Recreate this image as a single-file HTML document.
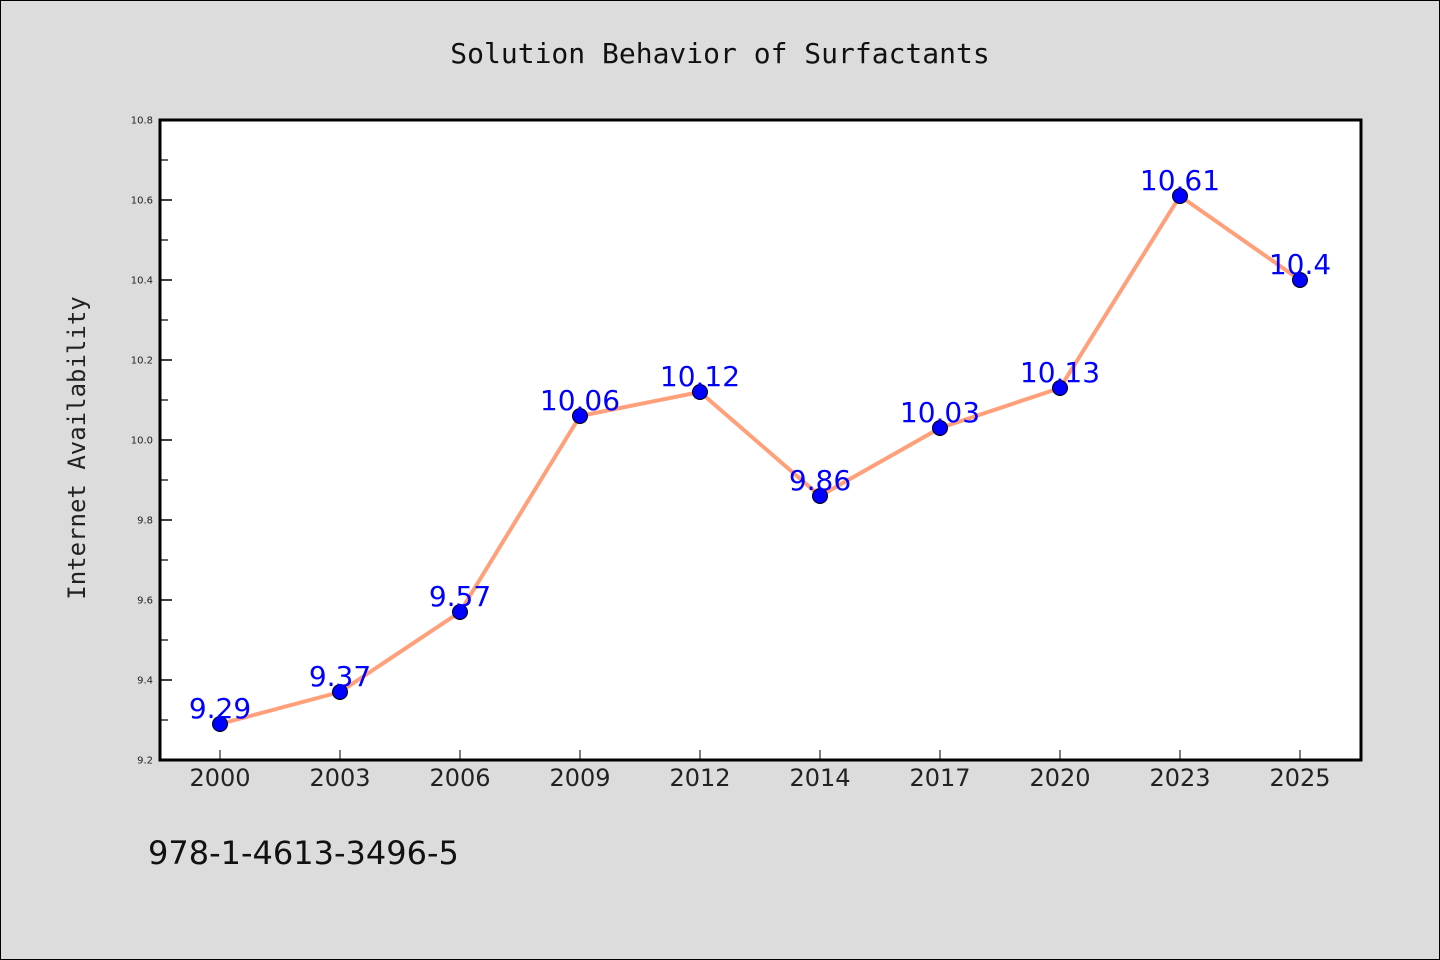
<!DOCTYPE html>
<html><head><meta charset="utf-8"><style>
html,body{margin:0;padding:0;background:#dcdcdc;}
svg{display:block;}
</style></head><body>
<svg width="1440" height="960" xmlns="http://www.w3.org/2000/svg">
<rect x="0.5" y="0.5" width="1439" height="959" fill="#dcdcdc" stroke="#000"/>
<text x="720" y="63" text-anchor="middle" font-family="'WenQuanYi Zen Hei','DejaVu Sans Mono',monospace" font-size="28" fill="#111">Solution Behavior of Surfactants</text>
<rect x="160" y="120" width="1201" height="640" fill="#fff"/>
<g id="axes"></g>
<g id="series"></g>
<rect x="160" y="120" width="1201" height="640" fill="none" stroke="#000" stroke-width="3"/>
<text transform="translate(85,448) rotate(-90)" text-anchor="middle" font-family="'WenQuanYi Zen Hei','DejaVu Sans Mono',monospace" font-size="24" fill="#222">Internet Availability</text>
<text x="148" y="864" font-family="'WenQuanYi Zen Hei','DejaVu Sans',sans-serif" font-size="32" fill="#111">978-1-4613-3496-5</text>
</svg>
<script>
const categories=["2000","2003","2006","2009","2012","2014","2017","2020","2023","2025"];
const values=[9.29,9.37,9.57,10.06,10.12,9.86,10.03,10.13,10.61,10.4];
const yTicks=[9.2,9.4,9.6,9.8,10.0,10.2,10.4,10.6,10.8];
const yMinor=[9.3,9.5,9.7,9.9,10.1,10.3,10.5,10.7];
const NS="http://www.w3.org/2000/svg";
const L=160,R=1361,T=120,B=760,yMin=9.2,yMax=10.8;
const xs=i=>L+60+i*(R-L-1)/categories.length;
const ys=v=>B-(v-yMin)/(yMax-yMin)*(B-T);
function mk(tag,attrs,parent){const e=document.createElementNS(NS,tag);for(const k in attrs)e.setAttribute(k,attrs[k]);parent.appendChild(e);return e;}
const ax=document.getElementById('axes'),se=document.getElementById('series');
yTicks.forEach(v=>{
 const l=mk('line',{x1:L,x2:L+12,y1:ys(v),y2:ys(v),stroke:'#000','stroke-width':1.5},ax);
 
 
 const t=mk('text',{x:L-7,y:ys(v)+3.5,'text-anchor':'end','font-family':'DejaVu Sans,sans-serif','font-size':10,fill:'#222'},ax);
 t.textContent=v.toFixed(1);
 
 
});
yMinor.forEach(v=>{
 const l=mk('line',{x1:L,x2:L+8,y1:ys(v),y2:ys(v),stroke:'#000','stroke-width':1.2},ax);
 
 
});
categories.forEach((c,i)=>{
 const l=mk('line',{x1:xs(i),x2:xs(i),y1:B,y2:B-10,stroke:'#000','stroke-width':1},ax);
 
 
 const t=mk('text',{x:xs(i),y:B+26,'text-anchor':'middle','font-family':'WenQuanYi Zen Hei,DejaVu Sans,sans-serif','font-size':24,fill:'#222'},ax);
 t.textContent=c;
 
 
});
const p=mk('polyline',{points:values.map((v,i)=>xs(i)+','+ys(v)).join(' '),fill:'none',stroke:'#ffa07a','stroke-width':4,'stroke-linejoin':'round'},se);


values.forEach((v,i)=>{
 const c=mk('circle',{cx:xs(i),cy:ys(v),r:7.5,fill:'#0000ff',stroke:'#000','stroke-width':1},se);
 
 
});
values.forEach((v,i)=>{
 const t=mk('text',{x:xs(i),y:ys(v)-6,'text-anchor':'middle','font-family':'WenQuanYi Zen Hei,DejaVu Sans,sans-serif','font-size':28,fill:'#0000ff'},se);
 t.textContent=String(v);
 
 
});
</script>
</body></html>
